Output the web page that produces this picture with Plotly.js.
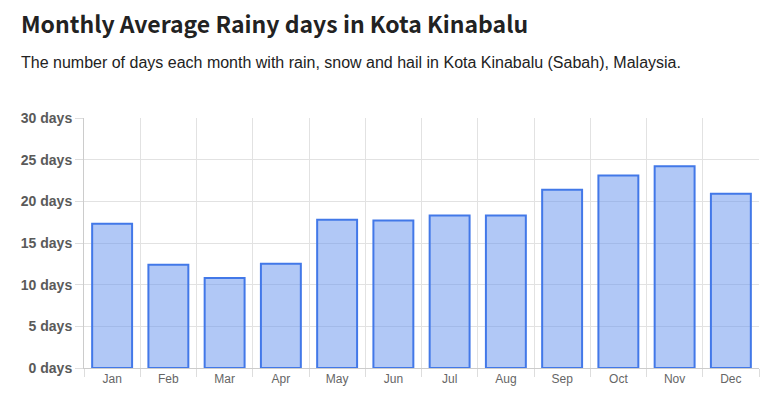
<!DOCTYPE html>
<html>
<head>
<meta charset="utf-8">
<script src="https://cdn.plot.ly/plotly-3.0.1.min.js"></script>
<style>
  html, body { margin: 0; padding: 0; background: #fff; }
  #chart { width: 767px; height: 416px; }
</style>
</head>
<body>
<div id="chart"></div>
<script>
// chart data
const months = ["Jan", "Feb", "Mar", "Apr", "May", "Jun", "Jul", "Aug", "Sep", "Oct", "Nov", "Dec"];
const rainyDays = [17.3, 12.4, 10.8, 12.5, 17.8, 17.7, 18.3, 18.3, 21.4, 23.1, 24.2, 20.9];
const yTicks = [0, 5, 10, 15, 20, 25, 30];
const yTickText = yTicks.map((v) => v + " days");

const titleText = "Monthly Average Rainy days in Kota Kinabalu";
const subtitleText = "The number of days each month with rain, snow and hail in Kota Kinabalu (Sabah), Malaysia.";

const trace = {
  type: "bar",
  x: months,
  y: rainyDays,
  marker: {
    color: "rgba(100, 145, 237, 0.5)",
    line: { color: "rgb(66, 120, 232)", width: 2 },
  },
  hoverinfo: "x+y",
};

const layout = {
  width: 767,
  height: 416,
  margin: { l: 84, r: 8, t: 118, b: 48 },
  paper_bgcolor: "#fff",
  plot_bgcolor: "#fff",
  showlegend: false,
  bargap: 0.29,
  font: { family: "Liberation Sans, Arial, sans-serif", color: "#555" },
  xaxis: {
    type: "category",
    tickson: "boundaries",
    showgrid: true,
    gridcolor: "#e2e2e2",
    ticks: "outside",
    ticklen: 8,
    tickcolor: "#ddd",
    showline: true,
    linecolor: "#ccc",
    tickfont: { size: 12, color: "#666" },
    fixedrange: true,
  },
  yaxis: {
    range: [0, 30],
    tickmode: "array",
    tickvals: yTicks,
    ticktext: yTickText,
    showgrid: true,
    gridcolor: "#e2e2e2",
    zeroline: false,
    ticks: "outside",
    ticklen: 8,
    tickcolor: "#ddd",
    showline: true,
    linecolor: "#ccc",
    tickfont: { size: 14, color: "#5a5a5a", weight: "bold" },
    fixedrange: true,
  },
  annotations: [
    {
      text: "<b>" + titleText + "</b>",
      xref: "paper",
      yref: "paper",
      x: (19 - 84) / 675,
      y: 1 + (118 - 23) / 250,
      xanchor: "left",
      yanchor: "middle",
      showarrow: false,
      font: { family: "Noto Sans CJK KR, Noto Sans, sans-serif", size: 23, color: "#222" },
    },
    {
      text: subtitleText,
      xref: "paper",
      yref: "paper",
      x: (19 - 84) / 675,
      y: 1 + (118 - 62) / 250,
      xanchor: "left",
      yanchor: "middle",
      showarrow: false,
      font: { family: "Liberation Sans, Arial, sans-serif", size: 16, color: "#222" },
    },
  ],
};

Plotly.newPlot("chart", [trace], layout, { displayModeBar: false, staticPlot: false });
</script>
</body>
</html>
